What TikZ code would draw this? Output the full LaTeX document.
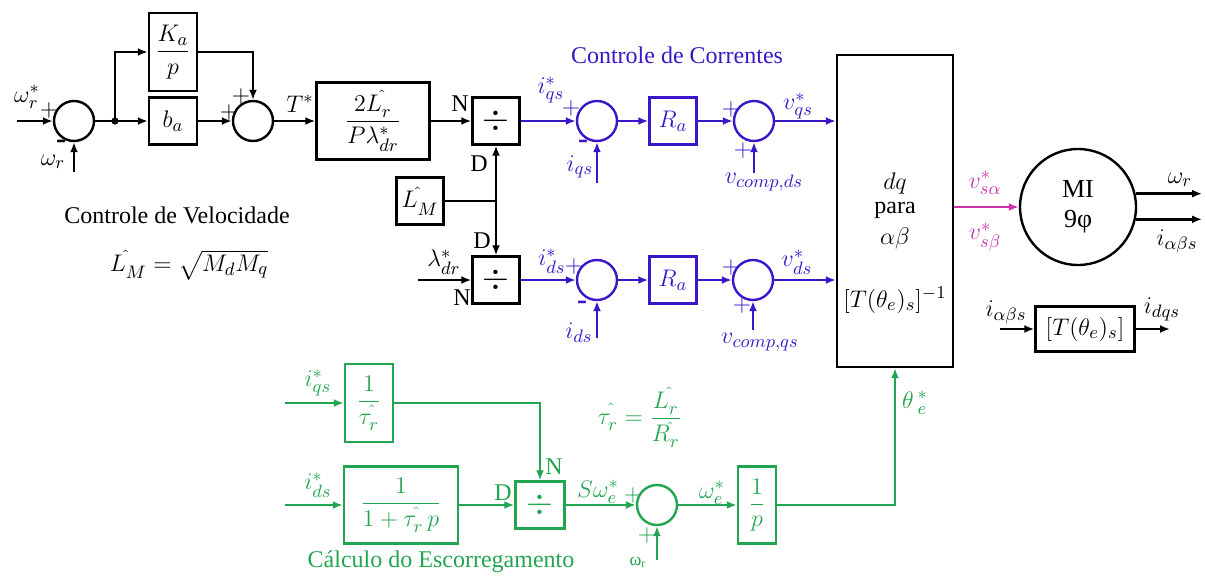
\documentclass[tikz,border=0pt]{standalone}
\usepackage{amsmath}
\usepackage{fontspec}
\setmainfont{Liberation Serif}
\newfontfamily\tmsfont{Liberation Serif}
\usetikzlibrary{arrows.meta}
\definecolor{cblue}{RGB}{58,22,200}
\definecolor{cgreen}{RGB}{34,165,80}
\definecolor{cmag}{RGB}{205,50,170}
\begin{document}
\begin{tikzpicture}[x=0.5pt,y=-0.5pt, line width=1.2pt,
  font=\tmsfont\fontsize{12}{14}\selectfont,
  blk/.style={draw, inner sep=0, align=center, font=\tmsfont\fontsize{13}{15}\selectfont},
  sumc/.style={draw, circle, minimum size=20pt, inner sep=0},
  arr/.style={-{Latex[length=5pt,width=4pt]}},
  lbl/.style={inner sep=0},
  mlbl/.style={inner sep=0, font=\tmsfont\fontsize{13}{15}\selectfont},
  sgn/.style={inner sep=0, font=\tmsfont\fontsize{12}{12}\selectfont},
  msgn/.style={inner sep=0, font=\tmsfont\bfseries\fontsize{15}{15}\selectfont}]
\useasboundingbox (0,0) rectangle (1205,579);

% ---------------- speed control (black)
\node[sumc] (s1) at (74,121) {};
\node[blk, minimum width=24pt, minimum height=39pt] (ka) at (173,52) {$\dfrac{K_a}{p}$};
\node[blk, minimum width=24pt, minimum height=23.5pt] (ba) at (173,121) {$b_a$};
\node[sumc] (s2) at (253,121) {};
\node[blk, minimum width=56.5pt, minimum height=38.5pt] (gain) at (373,121) {$\dfrac{2L^{\hat{}}_r}{P\lambda^*_{dr}}$};
\node[blk, minimum size=23.5pt] (d1) at (496,121) {\LARGE$\div$};
\node[blk, minimum size=23.5pt] (lm) at (420,201) {$L^{\hat{}}_M$};
\node[blk, minimum size=23.5pt] (d2) at (496,280) {\LARGE$\div$};

\coordinate (in1) at (17,121);
\coordinate (fb1) at (74,172);
\coordinate (br) at (115,121);
\coordinate (in2) at (418,280);
\coordinate (j) at (d1.south |- lm.east);

\draw[arr] (in1) -- (s1);
\draw[arr] (fb1) -- (s1);
\draw (s1) -- (br);
\fill (br) circle (1.8pt);
\draw[arr] (br) -- (ba);
\draw[arr] (br) |- (ka);
\draw[arr] (ka) -| (s2);
\draw[arr] (ba) -- (s2);
\draw[arr] (s2) -- (gain);
\draw[arr] (gain) -- (d1);
\draw (lm) -- (j);
\draw[arr] (j) -- (d1);
\draw[arr] (j) -- (d2);
\draw[arr] (in2) -- (d2);

\node[mlbl] at (27,97) {$\omega^*_r$};
\node[sgn] at (49,110) {$+$};
\node[msgn] at (61,144) {-};
\node[mlbl] at (53,162) {$\omega_r$};
\node[sgn] at (241,96) {$+$};
\node[sgn] at (229,112) {$+$};
\node[mlbl] at (300,104) {$T^*$};
\node[lbl] at (460,104) {N};
\node[lbl] at (479,164) {D};
\node[lbl] at (482,241) {D};
\node[lbl] at (462,298) {N};
\node[mlbl] at (444,262) {$\lambda^*_{dr}$};
\node[lbl] at (177,215) {Controle de Velocidade};
\node[mlbl] at (189,265) {$L^{\hat{}}_M = \sqrt{M_dM_q}$};

% ---------------- current control (blue)
\begin{scope}[color=cblue]
\node[sumc] (s3) at (597,121) {};
\node[blk, minimum size=23.5pt] (ra1) at (673,121) {$R_a$};
\node[sumc] (s4) at (754,121) {};
\node[sumc] (s5) at (597,280) {};
\node[blk, minimum size=23.5pt] (ra2) at (673,280) {$R_a$};
\node[sumc] (s6) at (753,280) {};
\coordinate (f3) at (597,183);
\coordinate (f4) at (754,173);
\coordinate (f5) at (597,338);
\coordinate (f6) at (753,330);
\end{scope}

% big transform block
\node[blk, minimum width=58pt, minimum height=156pt] (big) at (895,211) {};
\node[mlbl] at (895,183) {$dq$};
\node[lbl] at (895,210) {para};
\node[mlbl] at (895,238) {$\alpha\beta$};
\node[mlbl] at (895,300) {$[T(\theta_e)_s]^{-1}$};

\begin{scope}[color=cblue]
\draw[arr] (d1) -- (s3);
\draw[arr] (s3) -- (ra1);
\draw[arr] (ra1) -- (s4);
\draw[arr] (s4) -- (s4.east -| big.west);
\draw[arr] (f3) -- (s3);
\draw[arr] (f4) -- (s4);
\draw[arr] (d2) -- (s5);
\draw[arr] (s5) -- (ra2);
\draw[arr] (ra2) -- (s6);
\draw[arr] (s6) -- (s6.east -| big.west);
\draw[arr] (f5) -- (s5);
\draw[arr] (f6) -- (s6);

\node[lbl] at (677,55) {Controle de Correntes};
\node[mlbl] at (551,90) {$i^*_{qs}$};
\node[sgn] at (571,108) {$+$};
\node[msgn] at (583,144) {-};
\node[mlbl] at (580,167) {$i_{qs}$};
\node[sgn] at (731,109) {$+$};
\node[sgn] at (743,150) {$+$};
\node[mlbl] at (764,182) {$v_{comp,ds}$};
\node[mlbl] at (798,106) {$v^*_{qs}$};
\node[mlbl] at (552,261) {$i^*_{ds}$};
\node[sgn] at (574,266) {$+$};
\node[msgn] at (582,305) {-};
\node[mlbl] at (579,333) {$i_{ds}$};
\node[sgn] at (731,267) {$+$};
\node[sgn] at (742,305) {$+$};
\node[mlbl] at (760,342) {$v_{comp,qs}$};
\node[mlbl] at (797,262) {$v^*_{ds}$};
\end{scope}

% ---------------- machine
\node[draw, circle, minimum size=58pt, inner sep=0, align=center,
  font=\tmsfont\fontsize{13}{15}\selectfont] (mi) at (1078,207) {MI\\9φ};
\coordinate (o1) at (1202,194);
\coordinate (o2) at (1202,219);
\draw[arr, cmag] (big.east |- mi) -- (mi);
\node[mlbl, cmag] at (985,183) {$v^*_{s\alpha}$};
\node[mlbl, cmag] at (985,237) {$v^*_{s\beta}$};
\draw[arr] (mi.13) -- (mi.13 -| o1);
\draw[arr] (mi.-12) -- (mi.-12 -| o2);
\node[mlbl] at (1180,180) {$\omega_r$};
\node[mlbl] at (1177,241) {$i_{\alpha\beta s}$};

\node[blk, minimum width=49.5pt, minimum height=22.5pt] (tb) at (1085,329) {$[T(\theta_e)_s]$};
\coordinate (ti) at (1000,329);
\coordinate (to) at (1170,329);
\draw[arr] (ti) -- (tb);
\draw[arr] (tb) -- (to);
\node[mlbl] at (1006,312) {$i_{\alpha\beta s}$};
\node[mlbl] at (1162,309) {$i_{dqs}$};

% ---------------- slip calculation (green)
\begin{scope}[color=cgreen]
\node[blk, minimum width=24pt, minimum height=39pt] (tau) at (369,403) {$\dfrac{1}{\tau^{\hat{}}_r}$};
\node[blk, minimum width=57pt, minimum height=38.5pt] (lp) at (401,505) {$\dfrac{1}{1+\tau^{\hat{}}_r\,p}$};
\node[blk, minimum width=24.5pt, minimum height=23.5pt] (d3) at (540,505) {\LARGE$\div$};
\node[sumc] (s7) at (657,505) {};
\node[blk, minimum width=19pt, minimum height=38.5pt] (ig) at (757,505) {$\dfrac{1}{p}$};
\coordinate (gi1) at (285,403);
\coordinate (gi2) at (285,505);
\coordinate (gf) at (657,560);
\draw[arr] (gi1) -- (tau);
\draw[arr] (tau) -| (d3);
\draw[arr] (gi2) -- (lp);
\draw[arr] (lp) -- (d3);
\draw[arr] (d3) -- (s7);
\draw[arr] (gf) -- (s7);
\draw[arr] (s7) -- (ig);
\draw[arr] (ig) -| (big);

\node[mlbl] at (318,383) {$i^*_{qs}$};
\node[mlbl] at (318,485) {$i^*_{ds}$};
\node[lbl] at (554,467) {N};
\node[lbl] at (503,493) {D};
\node[mlbl] at (598,492) {$S\omega^*_e$};
\node[sgn] at (633,495) {$+$};
\node[sgn] at (647,535) {$+$};
\node[lbl, font=\tmsfont\fontsize{9}{10}\selectfont] at (638,562) {ω\textsubscript{r}};
\node[mlbl] at (712,493) {$\omega^*_e$};
\node[mlbl] at (915,403) {$\theta\,^*_e$};
\node[mlbl] at (640,417) {$\tau^{\hat{}}_r = \dfrac{L^{\hat{}}_r}{R^{\hat{}}_r}$};
\node[lbl] at (441,562) {Cálculo do Escorregamento};
\end{scope}
\end{tikzpicture}
\end{document}
